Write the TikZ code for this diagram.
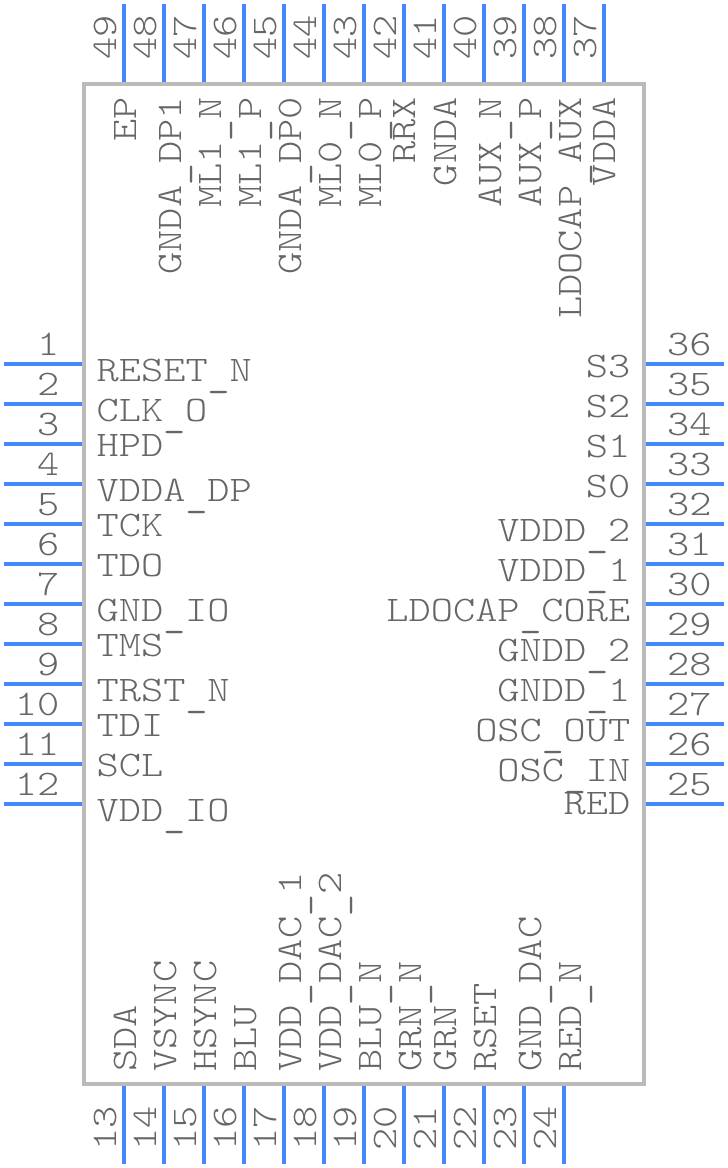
\documentclass[tikz,border=0pt]{standalone}
\usepackage{fontspec}
\newfontfamily\pinfont[FakeStretch=1.175]{Latin Modern Mono Light}
\newfontfamily\barfont[FakeStretch=1.175]{Latin Modern Mono}
\newcommand{\us}{\raisebox{-4.5pt}{\barfont\_}}
\definecolor{pinblue}{HTML}{4488FF}
\definecolor{bodygray}{HTML}{BBBBBB}
\definecolor{textgray}{HTML}{666666}
\tikzset{
    pinline/.style={draw=pinblue, line width=4pt},
    pintext/.style={inner sep=0pt, text=textgray, font=\pinfont\fontsize{36}{36}\selectfont},
    lname/.style={pintext, anchor=base west},
    rname/.style={pintext, anchor=base east},
    tname/.style={pintext, rotate=90, anchor=base east},
    bname/.style={pintext, rotate=90, anchor=base west},
}
\begin{document}
\begin{tikzpicture}[x=1pt, y=1pt]
    \useasboundingbox (0,0) rectangle (728,1168);
    % 外框
    \node[draw=bodygray, line width=4pt, inner sep=0pt, minimum width=560pt, minimum height=1000pt] (ic) at (364,584) {};

    % left side
    \coordinate (pin 1) at (4,804);
    \coordinate (pin 2) at (4,764);
    \coordinate (pin 3) at (4,724);
    \coordinate (pin 4) at (4,684);
    \coordinate (pin 5) at (4,644);
    \coordinate (pin 6) at (4,604);
    \coordinate (pin 7) at (4,564);
    \coordinate (pin 8) at (4,524);
    \coordinate (pin 9) at (4,484);
    \coordinate (pin 10) at (4,444);
    \coordinate (pin 11) at (4,404);
    \coordinate (pin 12) at (4,364);
    \draw[pinline] (pin 1) -- (pin 1 -| ic.west);
    \draw[pinline] (pin 2) -- (pin 2 -| ic.west);
    \draw[pinline] (pin 3) -- (pin 3 -| ic.west);
    \draw[pinline] (pin 4) -- (pin 4 -| ic.west);
    \draw[pinline] (pin 5) -- (pin 5 -| ic.west);
    \draw[pinline] (pin 6) -- (pin 6 -| ic.west);
    \draw[pinline] (pin 7) -- (pin 7 -| ic.west);
    \draw[pinline] (pin 8) -- (pin 8 -| ic.west);
    \draw[pinline] (pin 9) -- (pin 9 -| ic.west);
    \draw[pinline] (pin 10) -- (pin 10 -| ic.west);
    \draw[pinline] (pin 11) -- (pin 11 -| ic.west);
    \draw[pinline] (pin 12) -- (pin 12 -| ic.west);
    \node[rname] (num 1) at (59.5,812) {1};
    \node[rname] (num 2) at (59.5,772) {2};
    \node[rname] (num 3) at (59.5,732) {3};
    \node[rname] (num 4) at (59.5,692) {4};
    \node[rname] (num 5) at (59.5,652) {5};
    \node[rname] (num 6) at (59.5,612) {6};
    \node[rname] (num 7) at (59.5,572) {7};
    \node[rname] (num 8) at (59.5,532) {8};
    \node[rname] (num 9) at (59.5,492) {9};
    \node[rname] (num 10) at (59.5,452) {10};
    \node[rname] (num 11) at (59.5,412) {11};
    \node[rname] (num 12) at (59.5,372) {12};
    \node[lname] (RESET_N) at (96.5,786) {RESET\us N};
    \node[lname] (CLK_O) at (96.5,746) {CLK\us O};
    \node[lname] (HPD) at (96.5,711) {HPD};
    \node[lname] (VDDA_DP) at (96.5,666) {VDDA\us DP};
    \node[lname] (TCK) at (96.5,631) {TCK};
    \node[lname] (TDO) at (96.5,591) {TDO};
    \node[lname] (GND_IO) at (96.5,546) {GND\us IO};
    \node[lname] (TMS) at (96.5,511) {TMS};
    \node[lname] (TRST_N) at (96.5,466) {TRST\us N};
    \node[lname] (TDI) at (96.5,431) {TDI};
    \node[lname] (SCL) at (96.5,391) {SCL};
    \node[lname] (VDD_IO) at (96.5,346) {VDD\us IO};

    % right side
    \coordinate (pin 36) at (724,804);
    \coordinate (pin 35) at (724,764);
    \coordinate (pin 34) at (724,724);
    \coordinate (pin 33) at (724,684);
    \coordinate (pin 32) at (724,644);
    \coordinate (pin 31) at (724,604);
    \coordinate (pin 30) at (724,564);
    \coordinate (pin 29) at (724,524);
    \coordinate (pin 28) at (724,484);
    \coordinate (pin 27) at (724,444);
    \coordinate (pin 26) at (724,404);
    \coordinate (pin 25) at (724,364);
    \draw[pinline] (pin 36) -- (pin 36 -| ic.east);
    \draw[pinline] (pin 35) -- (pin 35 -| ic.east);
    \draw[pinline] (pin 34) -- (pin 34 -| ic.east);
    \draw[pinline] (pin 33) -- (pin 33 -| ic.east);
    \draw[pinline] (pin 32) -- (pin 32 -| ic.east);
    \draw[pinline] (pin 31) -- (pin 31 -| ic.east);
    \draw[pinline] (pin 30) -- (pin 30 -| ic.east);
    \draw[pinline] (pin 29) -- (pin 29 -| ic.east);
    \draw[pinline] (pin 28) -- (pin 28 -| ic.east);
    \draw[pinline] (pin 27) -- (pin 27 -| ic.east);
    \draw[pinline] (pin 26) -- (pin 26 -| ic.east);
    \draw[pinline] (pin 25) -- (pin 25 -| ic.east);
    \node[lname] (num 36) at (667,812) {36};
    \node[lname] (num 35) at (667,772) {35};
    \node[lname] (num 34) at (667,732) {34};
    \node[lname] (num 33) at (667,692) {33};
    \node[lname] (num 32) at (667,652) {32};
    \node[lname] (num 31) at (667,612) {31};
    \node[lname] (num 30) at (667,572) {30};
    \node[lname] (num 29) at (667,532) {29};
    \node[lname] (num 28) at (667,492) {28};
    \node[lname] (num 27) at (667,452) {27};
    \node[lname] (num 26) at (667,412) {26};
    \node[lname] (num 25) at (667,372) {25};
    \node[rname] (S3) at (630.5,790) {S3};
    \node[rname] (S2) at (630.5,750) {S2};
    \node[rname] (S1) at (630.5,710) {S1};
    \node[rname] (S0) at (630.5,670) {S0};
    \node[rname] (VDDD_2) at (630.5,626) {VDDD\us 2};
    \node[rname] (VDDD_1) at (630.5,586) {VDDD\us 1};
    \node[rname] (LDOCAP_CORE) at (630.5,546) {LDOCAP\us CORE};
    \node[rname] (GNDD_2) at (630.5,506) {GNDD\us 2};
    \node[rname] (GNDD_1) at (630.5,466) {GNDD\us 1};
    \node[rname] (OSC_OUT) at (630.5,426) {OSC\us OUT};
    \node[rname] (OSC_IN) at (630.5,386) {OSC\us IN};
    \node[rname] (RED) at (630.5,353) {RED};

    % top side
    \coordinate (pin 49) at (124,1164);
    \coordinate (pin 48) at (164,1164);
    \coordinate (pin 47) at (204,1164);
    \coordinate (pin 46) at (244,1164);
    \coordinate (pin 45) at (284,1164);
    \coordinate (pin 44) at (324,1164);
    \coordinate (pin 43) at (364,1164);
    \coordinate (pin 42) at (404,1164);
    \coordinate (pin 41) at (444,1164);
    \coordinate (pin 40) at (484,1164);
    \coordinate (pin 39) at (524,1164);
    \coordinate (pin 38) at (564,1164);
    \coordinate (pin 37) at (604,1164);
    \draw[pinline] (pin 49) -- (pin 49 |- ic.north);
    \draw[pinline] (pin 48) -- (pin 48 |- ic.north);
    \draw[pinline] (pin 47) -- (pin 47 |- ic.north);
    \draw[pinline] (pin 46) -- (pin 46 |- ic.north);
    \draw[pinline] (pin 45) -- (pin 45 |- ic.north);
    \draw[pinline] (pin 44) -- (pin 44 |- ic.north);
    \draw[pinline] (pin 43) -- (pin 43 |- ic.north);
    \draw[pinline] (pin 42) -- (pin 42 |- ic.north);
    \draw[pinline] (pin 41) -- (pin 41 |- ic.north);
    \draw[pinline] (pin 40) -- (pin 40 |- ic.north);
    \draw[pinline] (pin 39) -- (pin 39 |- ic.north);
    \draw[pinline] (pin 38) -- (pin 38 |- ic.north);
    \draw[pinline] (pin 37) -- (pin 37 |- ic.north);
    \node[bname] (num 49) at (116,1108) {49};
    \node[bname] (num 48) at (156,1108) {48};
    \node[bname] (num 47) at (196,1108) {47};
    \node[bname] (num 46) at (236,1108) {46};
    \node[bname] (num 45) at (276,1108) {45};
    \node[bname] (num 44) at (316,1108) {44};
    \node[bname] (num 43) at (356,1108) {43};
    \node[bname] (num 42) at (396,1108) {42};
    \node[bname] (num 41) at (436,1108) {41};
    \node[bname] (num 40) at (476,1108) {40};
    \node[bname] (num 39) at (516,1108) {39};
    \node[bname] (num 38) at (556,1108) {38};
    \node[bname] (num 37) at (596,1108) {37};
    \node[tname] (EP) at (136,1071) {EP};
    \node[tname] (GNDA_DP1) at (181,1071) {GNDA\us DP1};
    \node[tname] (ML1_N) at (221,1071) {ML1\us N};
    \node[tname] (ML1_P) at (261,1071) {ML1\us P};
    \node[tname] (GNDA_DP0) at (301,1071) {GNDA\us DP0};
    \node[tname] (ML0_N) at (341,1071) {ML0\us N};
    \node[tname] (ML0_P) at (381,1071) {ML0\us P};
    \node[tname] (RRX) at (415,1071) {RRX};
    \node[tname] (GNDA) at (456,1071) {GNDA};
    \node[tname] (AUX_N) at (501,1071) {AUX\us N};
    \node[tname] (AUX_P) at (541,1071) {AUX\us P};
    \node[tname] (LDOCAP_AUX) at (581,1071) {LDOCAP\us AUX};
    \node[tname] (VDDA) at (615,1071) {VDDA};

    % bottom side
    \coordinate (pin 13) at (124,4);
    \coordinate (pin 14) at (164,4);
    \coordinate (pin 15) at (204,4);
    \coordinate (pin 16) at (244,4);
    \coordinate (pin 17) at (284,4);
    \coordinate (pin 18) at (324,4);
    \coordinate (pin 19) at (364,4);
    \coordinate (pin 20) at (404,4);
    \coordinate (pin 21) at (444,4);
    \coordinate (pin 22) at (484,4);
    \coordinate (pin 23) at (524,4);
    \coordinate (pin 24) at (564,4);
    \draw[pinline] (pin 13) -- (pin 13 |- ic.south);
    \draw[pinline] (pin 14) -- (pin 14 |- ic.south);
    \draw[pinline] (pin 15) -- (pin 15 |- ic.south);
    \draw[pinline] (pin 16) -- (pin 16 |- ic.south);
    \draw[pinline] (pin 17) -- (pin 17 |- ic.south);
    \draw[pinline] (pin 18) -- (pin 18 |- ic.south);
    \draw[pinline] (pin 19) -- (pin 19 |- ic.south);
    \draw[pinline] (pin 20) -- (pin 20 |- ic.south);
    \draw[pinline] (pin 21) -- (pin 21 |- ic.south);
    \draw[pinline] (pin 22) -- (pin 22 |- ic.south);
    \draw[pinline] (pin 23) -- (pin 23 |- ic.south);
    \draw[pinline] (pin 24) -- (pin 24 |- ic.south);
    \node[bname] (num 13) at (116,17) {13};
    \node[bname] (num 14) at (156,17) {14};
    \node[bname] (num 15) at (196,17) {15};
    \node[bname] (num 16) at (236,17) {16};
    \node[bname] (num 17) at (276,17) {17};
    \node[bname] (num 18) at (316,17) {18};
    \node[bname] (num 19) at (356,17) {19};
    \node[bname] (num 20) at (396,17) {20};
    \node[bname] (num 21) at (436,17) {21};
    \node[bname] (num 22) at (476,17) {22};
    \node[bname] (num 23) at (516,17) {23};
    \node[bname] (num 24) at (556,17) {24};
    \node[bname] (SDA) at (136,96) {SDA};
    \node[bname] (VSYNC) at (176,96) {VSYNC};
    \node[bname] (HSYNC) at (216,96) {HSYNC};
    \node[bname] (BLU) at (256,96) {BLU};
    \node[bname] (VDD_DAC_1) at (301,96) {VDD\us DAC\us 1};
    \node[bname] (VDD_DAC_2) at (341,96) {VDD\us DAC\us 2};
    \node[bname] (BLU_N) at (381,96) {BLU\us N};
    \node[bname] (GRN_N) at (421,96) {GRN\us N};
    \node[bname] (GRN) at (456,96) {GRN};
    \node[bname] (RSET) at (496,96) {RSET};
    \node[bname] (GND_DAC) at (541,96) {GND\us DAC};
    \node[bname] (RED_N) at (581,96) {RED\us N};
\end{tikzpicture}
\end{document}
